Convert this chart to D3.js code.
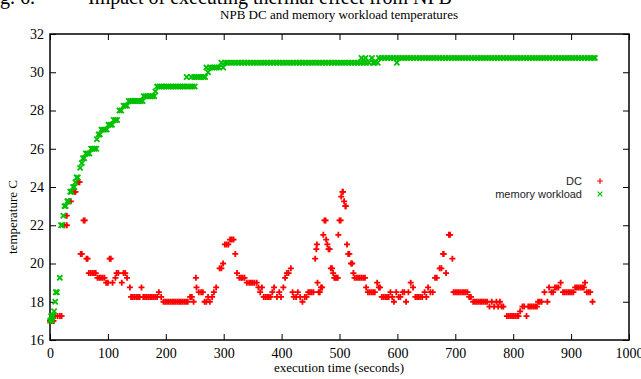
<!DOCTYPE html>
<html>
<head>
<meta charset="utf-8">
<script src="https://cdn.jsdelivr.net/npm/d3@7"></script>
<style>
  html, body { margin: 0; padding: 0; background: #fff; }
  svg { display: block; }
</style>
</head>
<body>
<svg id="chart" width="641" height="379"></svg>
<script>
// ---------- data (time in seconds, temperature in C) ----------
const captionPrefix = "Fig. 6.";
const captionText = "Impact of executing thermal effect from NPB";
const chartTitle = "NPB DC and memory workload temperatures";
const xAxisLabel = "execution time (seconds)";
const yAxisLabel = "temperature C";
const seriesNames = ["DC", "memory workload"];
const xTicks = [0, 100, 200, 300, 400, 500, 600, 700, 800, 900, 1000];
const yTicks = [16, 18, 20, 22, 24, 26, 28, 30, 32];

const dcSeries = [
  [0,17],[3,17],[6,17],[9,17.25],[13,17.25],[17,17.25],[20,17.25],
  [25,22],[29,22.5],[29,22],[33,23.25],[36,23.25],[42,23.75],[44,23.75],[49,24.25],[51,24.25],
  [53,20.5],[55,20.5],[58,22.25],[60,22.25],[63,20.25],[65,20.25],
  [67,19.5],[70,19.5],[73,19.5],[76,19.5],[79,19.5],
  [82,19.25],[85,19.25],[88,19.25],[91,19.25],[94,19.25],
  [97,19],[100,19],[103,20.25],[105,20.25],[108,19],[113,19.25],[115,19.5],[118,19.5],[124,19],
  [127,19.5],[130,19.5],[133,19.25],[138,18.75],
  [140,18.25],[143,18.25],[146,18.25],[149,18.25],[152,18.25],[155,18.25],[158,18.75],[161,18.25],
  [164,18.25],[167,18.25],[170,18.25],[173,18.25],[176,18.25],[179,18.25],[182,18.25],[185,18.25],
  [188,18.5],[192,18.25],
  [196,18],[199,18],[202,18],[205,18],[208,18],[211,18],[214,18],[217,18],[220,18],[223,18],
  [226,18],[229,18],[232,18],[235,18],[238,18],
  [242,18.25],[245,18.25],[248,18],[252,19.25],[253,18.75],[257,18.5],[261,18.5],[264,18.5],
  [267,18],[270,18],[273,18.25],[276,18],[280,18.25],[283,18.5],[287,18.75],
  [293,19.75],[296,19.75],[299,20],[302,21],[305,21],[308,21],[311,21.25],[314,21.25],[317,21.25],
  [320,20.5],[323,19.5],
  [327,19.25],[330,19.25],[333,19.25],[336,19.25],[340,19],[344,19],[347,19],[350,19],[353,19],[357,19],
  [360,18.75],[363,18.5],[366,18.75],
  [369,18.25],[372,18.25],[375,18.25],[378,18.25],[381,18.25],[384,18.5],[387,18.75],[392,18.25],
  [396,18.5],[399,18.25],[403,18.75],[406,19.25],[409,19.5],[412,19.5],[416,19.75],[419,18.5],
  [421,18.25],[425,18.25],[428,18.5],[432,18.25],[436,18],[440,18.25],[443,18.25],[446,18.5],
  [449,18.5],[452,18.5],[455,18.5],[458,20.25],[460,20.75],[461,21],[462,19],[464,18.5],[466,18.5],
  [468,18.75],[470,18.75],[472,21.5],[474,22.25],[476,22.25],[477,21.25],[479,21],[481,20.75],
  [483,20.75],[485,19.75],[487,19.75],[489,19.5],[491,19.25],[493,19.25],[495,19.25],[497,19.25],
  [498,21.5],[500,22.25],[502,22.25],[503,23.5],[505,23.75],[506,23.75],[508,23.25],[510,23],[511,23],
  [513,21],[515,20.5],[517,20.5],[520,20],[522,20],[524,19.5],
  [526,19.25],[529,19.25],[532,19.25],[535,19.25],[538,19.25],[541,19.25],[544,19.25],
  [546,18.75],[549,18.5],[552,18.5],[555,18.5],[558,18.5],[561,18.5],[565,19],[568,18.75],[570,18.75],
  [573,18.25],[576,18.25],[579,18.25],[582,18.25],[585,18.25],[588,18.5],[591,18.25],[594,18],
  [598,18.5],[602,18.25],[605,18.25],[609,18.5],[612,18.5],[615,18],[619,18.5],[623,19],[627,18.75],
  [631,18.25],[634,18.25],[637,18.25],[640,18.25],[643,18.25],[647,18.5],[650,18.25],[653,18.75],
  [657,18.5],[661,18.5],[665,19.25],[668,19.25],[673,19.75],[676,19.75],[679,20.5],[680,20.5],
  [684,19.5],[689,21.5],[691,21.5],[695,20.25],
  [697,18.5],[700,18.5],[703,18.5],[706,18.5],[709,18.5],[712,18.5],[715,18.5],[718,18.5],[721,18.5],
  [724,18.25],[727,18.25],
  [731,18],[734,18],[737,18],[740,18],[743,18],[746,18],[749,18],[752,18],[755,18],
  [759,17.75],[763,18],[767,17.75],[771,18],[774,17.75],[777,18],[780,17.75],[783,17.75],
  [789,17.25],[792,17.25],[795,17.25],[798,17.25],[801,17.25],[804,17.25],[807,17.25],[809,17.25],
  [812,17.5],[816,17.75],[819,17.75],[823,17.25],[826,17.75],[829,17.75],[832,17.75],[835,17.75],
  [838,17.75],[841,17.75],[843,18],[846,18],[849,18],[854,18.5],[859,18],[862,18.75],[866,18.5],
  [869,18.5],[872,18.75],[875,18.75],[878,18.75],[882,19],
  [886,18.5],[889,18.5],[892,18.5],[895,18.5],[898,18.5],[901,18.5],[904,18.5],
  [907,18.75],[910,18.75],[913,18.75],[916,18.75],[919,18.75],[922,18.75],[924,19],
  [927,18.5],[930,18.5],[933,18.5],[937,18]
];

const memorySeries = [
  [0,17],[2,17.25],[4,17],[5,17.25],[7,17.5],[9,18],[10,18.5],[12,18.5],[17,19.25],
  [19,22],[21,22],[23,22.5],[25,23],[27,23],[30,23.25],[32,23.25],[35,23.75],[37,23.75],
  [40,24],[42,24],[44,24.25],[46,24.5],[48,24.5],[52,25],[55,25.25],[57,25.5],[59,25.5],
  [62,25.75],[65,25.75],[68,25.75],[71,26],[74,26],[77,26],[80,26],[81,26.5],[84,26.75],[86,26.75],
  [89,27],[92,27],[95,27],[98,27],[101,27.25],[104,27.25],[107,27.25],[110,27.5],[113,27.5],[116,27.5],
  [120,28],[123,28],[127,28.25],[130,28.25],[133,28.25],
  [136,28.5],[139,28.5],[142,28.5],[145,28.5],[148,28.5],[151,28.5],[154,28.5],[157,28.5],[160,28.5],
  [162,28.75],[165,28.75],[168,28.75],[171,28.75],[174,28.75],[177,28.75],[180,28.75],[182,29],
  [185,29.25],[189,29.25],[193,29.25],[197,29.25],[201,29.25],[205,29.25],[209,29.25],[213,29.25],
  [217,29.25],[221,29.25],[225,29.25],[229,29.25],[233,29.25],[236,29.75],[238,29.25],[242,29.25],
  [244,29.75],[246,29.25],[249,29.75],[250,29.25],[253,29.75],[257,29.75],[261,29.75],[265,29.75],
  [268,29.75],[270,30.25],[273,30],[276,30.25],[280,30.25],[284,30.25],[288,30.25],[292,30.25],
  [296,30.5],[299,30.25],[302,30.5],
  [306,30.5],[311,30.5],[316,30.5],[321,30.5],[326,30.5],[331,30.5],[336,30.5],[341,30.5],[346,30.5],
  [351,30.5],[356,30.5],[361,30.5],[366,30.5],[371,30.5],[376,30.5],[381,30.5],[386,30.5],[391,30.5],
  [396,30.5],[401,30.5],[406,30.5],[411,30.5],[416,30.5],[421,30.5],[426,30.5],[431,30.5],[436,30.5],
  [441,30.5],[446,30.5],[451,30.5],[456,30.5],[461,30.5],[466,30.5],[471,30.5],[476,30.5],[481,30.5],
  [486,30.5],[491,30.5],[496,30.5],[501,30.5],[506,30.5],[511,30.5],[516,30.5],[521,30.5],[526,30.5],
  [531,30.5],[536,30.5],[538,30.75],[541,30.5],[545,30.75],[546,30.5],[551,30.5],[556,30.75],
  [558,30.5],[561,30.5],[566,30.5],
  [568,30.75],[573,30.75],[578,30.75],[583,30.75],[588,30.75],[593,30.75],[598,30.75],[599,30.5],
  [603,30.75],[608,30.75],[613,30.75],[618,30.75],[623,30.75],[628,30.75],[633,30.75],[638,30.75],
  [643,30.75],[648,30.75],[653,30.75],[658,30.75],[663,30.75],[668,30.75],[673,30.75],[678,30.75],
  [683,30.75],[688,30.75],[693,30.75],[698,30.75],[703,30.75],[708,30.75],[713,30.75],[718,30.75],
  [723,30.75],[728,30.75],[733,30.75],[738,30.75],[743,30.75],[748,30.75],[753,30.75],[758,30.75],
  [763,30.75],[768,30.75],[773,30.75],[778,30.75],[783,30.75],[788,30.75],[793,30.75],[798,30.75],
  [803,30.75],[808,30.75],[813,30.75],[818,30.75],[823,30.75],[828,30.75],[833,30.75],[838,30.75],
  [843,30.75],[848,30.75],[853,30.75],[858,30.75],[863,30.75],[868,30.75],[873,30.75],[878,30.75],
  [883,30.75],[888,30.75],[893,30.75],[898,30.75],[903,30.75],[908,30.75],[913,30.75],[918,30.75],
  [923,30.75],[928,30.75],[933,30.75],[938,30.75],[941,30.75]
];

// ---------- layout ----------
const svg = d3.select("#chart");
const M = { left: 50, right: 629, top: 34, bottom: 340 };
const serif = "'Liberation Serif', 'Times New Roman', serif";
const sans = "'Liberation Sans', Arial, sans-serif";
const RED = "#ff0000", GREEN = "#00c000";

const x = d3.scaleLinear().domain([0, 1000]).range([M.left, M.right]);
const y = d3.scaleLinear().domain([16, 32]).range([M.bottom, M.top]);

// cut-off caption at the very top
const cap = svg.append("g").attr("font-family", serif).attr("font-size", 20).attr("fill", "#000");
const tmp = cap.append("text").text("Fi");
const fiW = tmp.node().getComputedTextLength();
tmp.remove();
cap.append("text").attr("x", -fiW).attr("y", 4).text(captionPrefix);
cap.append("text").attr("x", 88).attr("y", 4).text(captionText);

// title
svg.append("text").attr("x", 339).attr("y", 19).attr("text-anchor", "middle")
  .attr("font-family", serif).attr("font-size", 13).text(chartTitle);

// axes
const tickStyle = g => {
  g.select(".domain").remove();
  g.selectAll(".tick line").attr("stroke", "#000").attr("stroke-width", 1);
  g.selectAll("text").attr("font-family", serif).attr("font-size", 14).attr("fill", "#000");
};
svg.append("g").attr("transform", `translate(0,${M.bottom})`)
  .call(d3.axisBottom(x).tickValues(xTicks).tickSize(-6).tickPadding(8).tickFormat(d3.format("d")))
  .call(tickStyle);
svg.append("g").attr("transform", `translate(0,${M.top})`)
  .call(d3.axisTop(x).tickValues(xTicks).tickSize(-6).tickFormat(""))
  .call(tickStyle);
svg.append("g").attr("transform", `translate(${M.left},0)`)
  .call(d3.axisLeft(y).tickValues(yTicks).tickSize(-6).tickPadding(6).tickFormat(d3.format("d")))
  .call(tickStyle);
svg.append("g").attr("transform", `translate(${M.right},0)`)
  .call(d3.axisRight(y).tickValues(yTicks).tickSize(-6).tickFormat(""))
  .call(tickStyle);

// border
svg.append("rect").attr("x", M.left).attr("y", M.top)
  .attr("width", M.right - M.left).attr("height", M.bottom - M.top)
  .attr("fill", "none").attr("stroke", "#000").attr("stroke-width", 1.5);

// axis titles
svg.append("text").attr("x", 339).attr("y", 372).attr("text-anchor", "middle")
  .attr("font-family", serif).attr("font-size", 13).text(xAxisLabel);
svg.append("text").attr("transform", "translate(17,217) rotate(-90)").attr("text-anchor", "middle")
  .attr("font-family", serif).attr("font-size", 13).text(yAxisLabel);

// markers
const plusPath = s => `M${-s},0H${s}M0,${-s}V${s}`;
const crossPath = s => `M${-s},${-s}L${s},${s}M${-s},${s}L${s},${-s}`;

svg.append("g").selectAll("path").data(dcSeries).join("path")
  .attr("transform", d => `translate(${x(d[0])},${y(d[1])})`)
  .attr("d", plusPath(3)).attr("stroke", RED).attr("stroke-width", 1.8).attr("fill", "none");

svg.append("g").selectAll("path").data(memorySeries).join("path")
  .attr("transform", d => `translate(${x(d[0])},${y(d[1])})`)
  .attr("d", crossPath(2.6)).attr("stroke", GREEN).attr("stroke-width", 1.8).attr("fill", "none");

// legend
const lg = svg.append("g").attr("font-family", sans).attr("font-size", 11).attr("fill", "#222");
const legendRows = [
  { name: seriesNames[0], color: RED, path: plusPath(2.8), yy: 181 },
  { name: seriesNames[1], color: GREEN, path: crossPath(2.3), yy: 194 }
];
legendRows.forEach(r => {
  lg.append("text").attr("x", 582).attr("y", r.yy).attr("dy", "0.35em")
    .attr("text-anchor", "end").text(r.name);
  lg.append("path").attr("transform", `translate(600,${r.yy})`).attr("d", r.path)
    .attr("stroke", r.color).attr("stroke-width", 1.2).attr("fill", "none");
});
</script>
</body>
</html>
